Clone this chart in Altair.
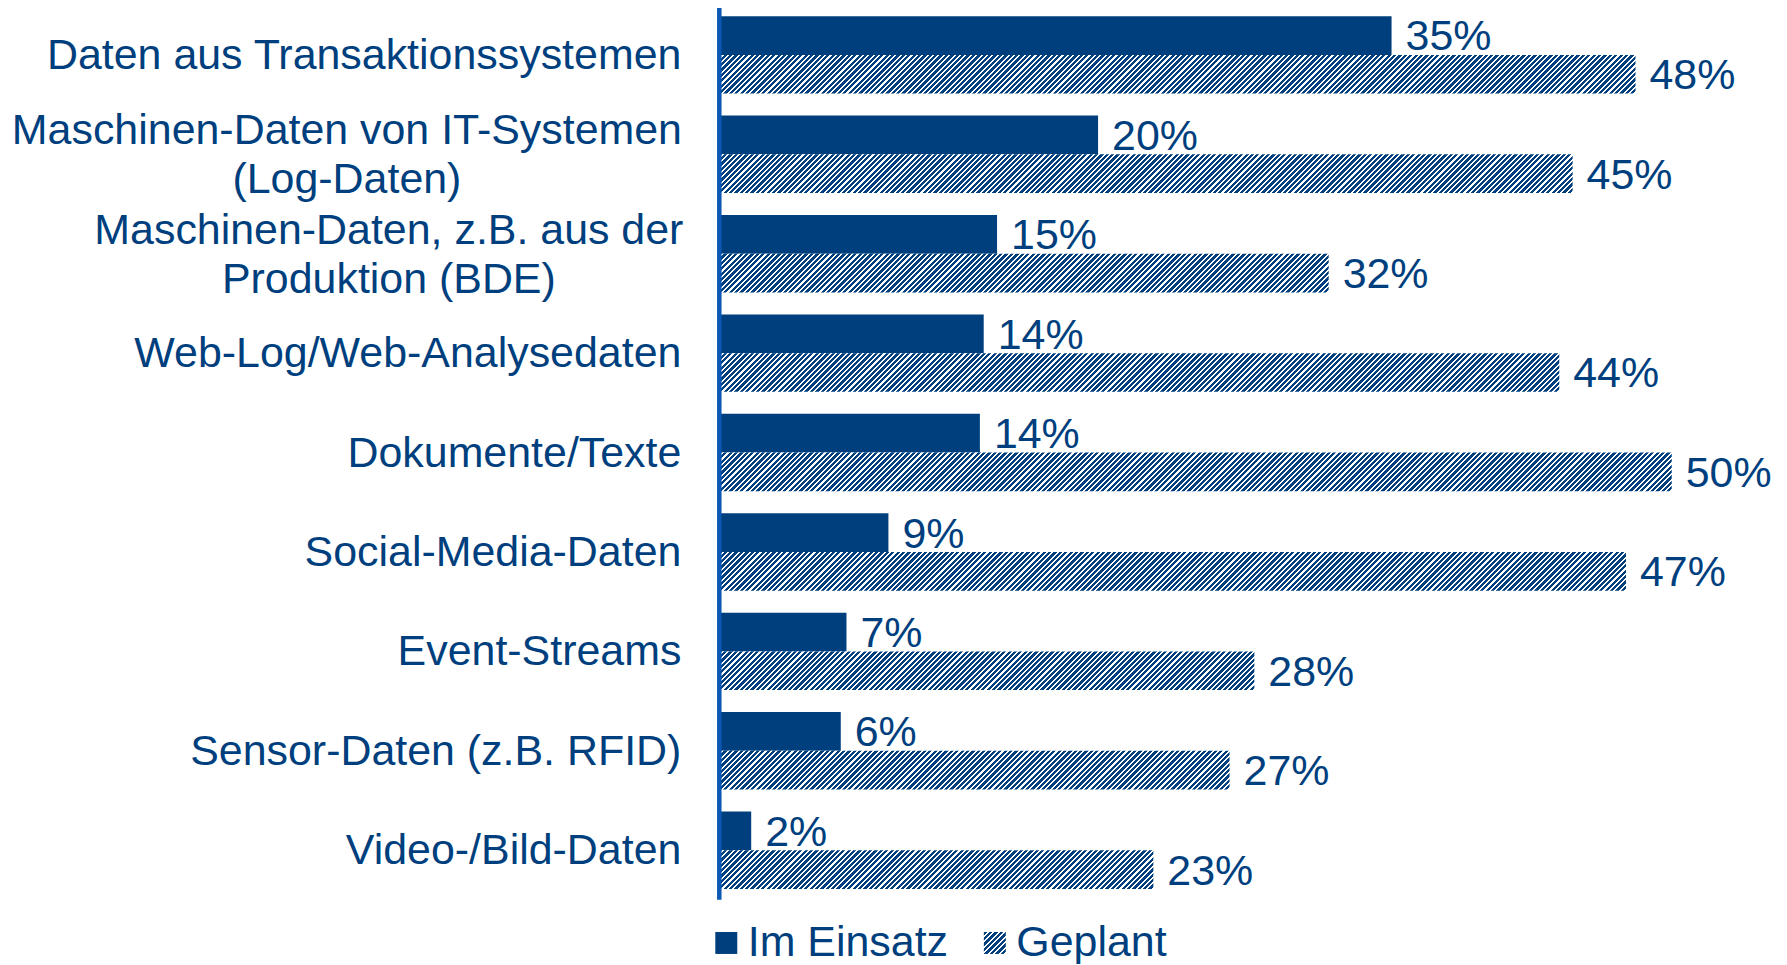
import json
import altair as alt
import pandas as pd

# ---------------- data ----------------
categories = [
    "Daten aus Transaktionssystemen",
    "Maschinen-Daten von IT-Systemen\n(Log-Daten)",
    "Maschinen-Daten, z.B. aus der\nProduktion (BDE)",
    "Web-Log/Web-Analysedaten",
    "Dokumente/Texte",
    "Social-Media-Daten",
    "Event-Streams",
    "Sensor-Daten (z.B. RFID)",
    "Video-/Bild-Daten",
]
series = ["Im Einsatz", "Geplant"]
im_einsatz = [35.3, 19.9, 14.6, 13.9, 13.7, 8.9, 6.7, 6.4, 1.7]
geplant = [48.1, 44.8, 32.0, 44.1, 50.0, 47.6, 28.1, 26.8, 22.8]
im_einsatz_labels = ["35%", "20%", "15%", "14%", "14%", "9%", "7%", "6%", "2%"]
geplant_labels = ["48%", "45%", "32%", "44%", "50%", "47%", "28%", "27%", "23%"]

# ---------------- style ----------------
NAVY = "#003F7E"
AXIS_BLUE = "#0A58B4"
FONT = "Liberation Sans"
FS = 43

W = 1050
H = 895
XMAX = 55
PAD_IN = 0.221
PAD_OUT = 0.104
step = H / (len(categories) - PAD_IN + 2 * PAD_OUT)
bar_h = step * (1 - PAD_IN) / 2
px_per = W / XMAX
PERIOD = 5.4
DUTY = 0.6


def stripes(n, duty=DUTY):
    stops = []
    for k in range(n):
        a = k / n
        b = (k + duty) / n
        c = (k + 1) / n
        stops += [
            {"offset": round(a, 5), "color": NAVY},
            {"offset": round(b, 5), "color": NAVY},
            {"offset": round(b, 5), "color": "#ffffff"},
            {"offset": round(c, 5), "color": "#ffffff"},
        ]
    return stops


def hatch(value):
    # diagonal "/" stripes of constant pitch, expressed in bounding-box units
    w = value * px_per
    h = bar_h
    a = (w + h) * w / (w * w + h * h)
    n = max(1, round((w + h) / PERIOD))
    return {"gradient": "linear", "x1": 0, "y1": 0,
            "x2": round(a, 6), "y2": round(a * h / w, 6), "stops": stripes(n)}


rows = []
for i, cat in enumerate(categories):
    rows.append({"cat": cat, "series": series[0], "value": im_einsatz[i],
                 "label": im_einsatz_labels[i], "fill": NAVY})
    rows.append({"cat": cat, "series": series[1], "value": geplant[i],
                 "label": geplant_labels[i], "fill": hatch(geplant[i])})
df = pd.DataFrame(rows)

legend_grad = {"gradient": "linear", "x1": 0, "y1": 0, "x2": 1, "y2": 1,
               "stops": stripes(8)}
legend_expr = json.dumps(legend_grad)

MULTI = "indexof(datum.value, '\\n') >= 0"

y_axis = alt.Axis(
    title=None,
    labelExpr="split(datum.label, '\\n')",
    labelFont=FONT,
    labelFontSize=FS,
    labelColor=NAVY,
    labelLineHeight=49,
    labelLimit=1000,
    labelBaseline="middle",
    labelAlign={"condition": {"test": MULTI, "value": "center"}, "value": "right"},
    labelPadding={"condition": [
        {"test": "indexof(datum.value, 'IT-Systemen') >= 0", "value": 373},
        {"test": "indexof(datum.value, 'Produktion') >= 0", "value": 331}],
        "value": 38},
    labelOffset={"condition": {"test": MULTI, "value": -23}, "value": 1},
    ticks=False,
    tickSize=0,
    domainColor=AXIS_BLUE,
    domainWidth=4.5,
    grid=False,
    zindex=1,
)

y_enc = alt.Y("cat:N", sort=categories,
              scale=alt.Scale(paddingInner=PAD_IN, paddingOuter=PAD_OUT),
              axis=y_axis)
yoff = alt.YOffset("series:N", sort=series,
                   scale=alt.Scale(paddingInner=0, paddingOuter=0))
x_enc = alt.X("value:Q", scale=alt.Scale(domain=[0, XMAX], nice=False, zero=True),
              axis=None)

base = alt.Chart(df)
bars = base.mark_bar(strokeWidth=0).encode(
    x=x_enc, y=y_enc, yOffset=yoff,
    fill=alt.Fill("fill:N", scale=None, legend=None),
)
texts = base.mark_text(align="left", baseline="middle", dx=14, dy=2, font=FONT,
                       fontSize=FS, color=NAVY).encode(
    x=x_enc, y=y_enc, yOffset=yoff, text="label:N",
)
legend_layer = alt.Chart(pd.DataFrame({"series": series})).transform_filter(
    "false").mark_square(opacity=1).encode(
    fill=alt.Fill("series:N",
                  scale=alt.Scale(domain=series, range=[NAVY, {"expr": legend_expr}]),
                  legend=alt.Legend(
                      title=None, orient="none", legendX=-14, legendY=917,
                      direction="horizontal", symbolType="square", symbolSize=484,
                      symbolStrokeWidth=0, labelFont=FONT, labelFontSize=FS,
                      labelColor=NAVY, labelOffset=0, columnPadding=25,
                      labelLimit=1000, padding=0, rowPadding=0)),
)

chart = alt.layer(bars, texts, legend_layer).resolve_scale(
    fill="independent").resolve_legend(fill="independent").properties(
    width=W, height=H,
    autosize=alt.AutoSizeParams(type="none"),
    padding={"left": 712, "top": -3, "right": 12, "bottom": 64},
).configure_view(stroke=None)

chart.save("out.html", embed_options={"renderer": "svg", "actions": False})
